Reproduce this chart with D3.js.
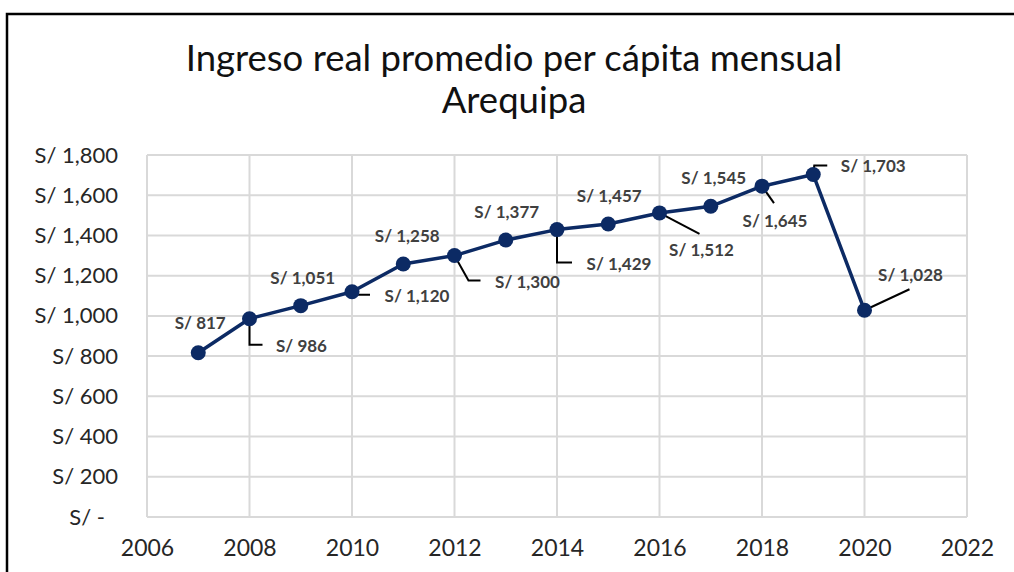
<!DOCTYPE html>
<html>
<head>
<meta charset="utf-8">
<script src="https://cdn.jsdelivr.net/npm/d3@7"></script>
<style>
  html, body { margin: 0; padding: 0; background: #ffffff; }
  svg { display: block; }
</style>
</head>
<body>
<svg id="chart" width="1014" height="572"></svg>
<script>
// Ingreso real promedio per cápita mensual – Arequipa (soles)
const years = [2007, 2008, 2009, 2010, 2011, 2012, 2013, 2014, 2015, 2016, 2017, 2018, 2019, 2020];
const income = [817, 986, 1051, 1120, 1258, 1300, 1377, 1429, 1457, 1512, 1545, 1645, 1703, 1028];
const xTicks = [2006, 2008, 2010, 2012, 2014, 2016, 2018, 2020, 2022];
const yTicks = [0, 200, 400, 600, 800, 1000, 1200, 1400, 1600, 1800];
const titleLines = ["Ingreso real promedio per cápita mensual", "Arequipa"];

// Label placement per point: offset of label centre and leader-line polyline (relative to point)
const labelLayout = [
  { dx: 2,  dy: -30, leader: null },
  { dx: 52, dy: 27,  leader: [[0, 0], [0, 26], [13, 26]] },
  { dx: 2,  dy: -28, leader: null },
  { dx: 65, dy: 4,   leader: [[0, 0], [2, 3], [18, 3]] },
  { dx: 4,  dy: -28, leader: null },
  { dx: 73, dy: 26,  leader: [[0, 0], [14, 25], [26, 25]] },
  { dx: 1,  dy: -28, leader: null },
  { dx: 62, dy: 34,  leader: [[0, 0], [0, 33], [15, 33]] },
  { dx: 1,  dy: -28, leader: null },
  { dx: 42, dy: 37,  leader: [[0, 0], [40, 21]] },
  { dx: 3,  dy: -28, leader: null },
  { dx: 13, dy: 35,  leader: [[0, 0], [12, 17]] },
  { dx: 60, dy: -8,  leader: [[0, 0], [1, -9], [14, -9]] },
  { dx: 46, dy: -35, leader: [[0, 0], [45, -21]] }
];

const FONT = "Lato, 'Liberation Sans', Arial, sans-serif";
const svg = d3.select("#chart");

const x = d3.scaleLinear().domain([2006, 2022]).range([147, 967]);
const y = d3.scaleLinear().domain([0, 1800]).range([517, 155]);

const money = d3.format(",");
const fmtY = v => v === 0 ? "S/ -" : "S/ " + money(v);

// chart frame (top and left edges visible)
svg.append("path")
  .attr("d", "M7,572 L7,14 L1014,14")
  .attr("fill", "none")
  .attr("stroke", "#000")
  .attr("stroke-width", 2.5);

// title
svg.append("g").selectAll("text")
  .data(titleLines)
  .join("text")
  .attr("x", 514)
  .attr("y", (d, i) => 71 + i * 42)
  .attr("text-anchor", "middle")
  .attr("font-family", FONT)
  .attr("font-size", 36.5)
  .attr("fill", "#111")
  .text(d => d);

// gridlines
const grid = svg.append("g");
grid.selectAll("line.h")
  .data(yTicks)
  .join("line")
  .attr("class", "h")
  .attr("x1", x(2006)).attr("x2", x(2022))
  .attr("y1", d => y(d)).attr("y2", d => y(d))
  .attr("stroke", "#d9d9d9").attr("stroke-width", 2);
grid.selectAll("line.v")
  .data(xTicks)
  .join("line")
  .attr("class", "v")
  .attr("x1", d => x(d)).attr("x2", d => x(d))
  .attr("y1", y(1800)).attr("y2", y(0))
  .attr("stroke", "#d9d9d9").attr("stroke-width", 2);

// y axis labels
const yAxis = d3.axisLeft(y).tickValues(yTicks).tickFormat(fmtY).tickSize(0).tickPadding(0);
const gy = svg.append("g").attr("transform", "translate(118,0)").call(yAxis);
gy.select(".domain").remove();
gy.selectAll("text")
  .attr("font-family", FONT)
  .attr("font-size", 22)
  .attr("fill", "#262626")
  .attr("x", d => d === 0 ? -13 : 0);

// x axis labels
const xAxis = d3.axisBottom(x).tickValues(xTicks).tickFormat(d3.format("d")).tickSize(0).tickPadding(0);
const gx = svg.append("g").attr("transform", "translate(0,540)").call(xAxis);
gx.select(".domain").remove();
gx.selectAll("text")
  .attr("font-family", FONT)
  .attr("font-size", 23)
  .attr("fill", "#262626")
  .attr("dy", "0.71em");

const pts = years.map((yr, i) => ({ yr, v: income[i], lay: labelLayout[i] }));

// series line
const line = d3.line().x(d => x(d.yr)).y(d => y(d.v));
svg.append("path")
  .datum(pts)
  .attr("d", line)
  .attr("fill", "none")
  .attr("stroke", "#0c2a64")
  .attr("stroke-width", 3.5)
  .attr("stroke-linejoin", "round");

// leader lines
svg.append("g").selectAll("path")
  .data(pts.filter(d => d.lay.leader))
  .join("path")
  .attr("d", d => d3.line()(d.lay.leader.map(p => [x(d.yr) + p[0], y(d.v) + p[1]])))
  .attr("fill", "none")
  .attr("stroke", "#000")
  .attr("stroke-width", 2);

// markers
svg.append("g").selectAll("circle")
  .data(pts)
  .join("circle")
  .attr("cx", d => x(d.yr))
  .attr("cy", d => y(d.v))
  .attr("r", 7.5)
  .attr("fill", "#0c2a64");

// data labels
svg.append("g").selectAll("text")
  .data(pts)
  .join("text")
  .attr("x", d => x(d.yr) + d.lay.dx)
  .attr("y", d => y(d.v) + d.lay.dy)
  .attr("dy", "0.35em")
  .attr("text-anchor", "middle")
  .attr("font-family", FONT)
  .attr("font-size", 17)
  .attr("font-weight", "bold")
  .attr("fill", "#404040")
  .text(d => "S/ " + money(d.v));
</script>
</body>
</html>
